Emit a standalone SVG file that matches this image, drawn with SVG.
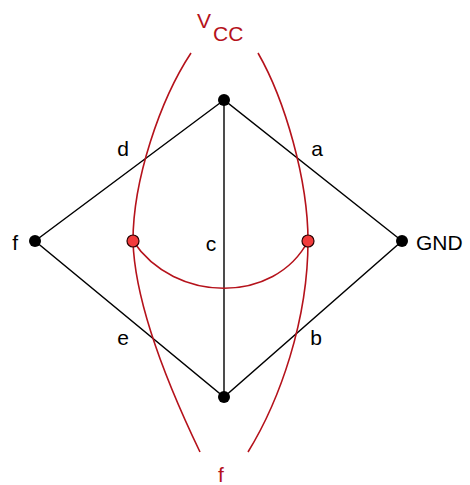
<svg xmlns="http://www.w3.org/2000/svg" width="470" height="485" viewBox="0 0 470 485">
<style>
.edge{stroke:#000;stroke-width:1.4;fill:none}
.red{stroke:#b5121b;stroke-width:1.6;fill:none}
.bn{fill:#000}
.rn{fill:#f23c3c;stroke:#2a0000;stroke-width:1.2}
text{font-family:"Liberation Sans",Arial,sans-serif;font-size:21px}
.rt{fill:#b5121b}
</style>
<rect width="470" height="485" fill="#fff"/>
<g id="connectors">
<path class="edge" d="M224,100 L35,241 L224,397 L402,241 Z M224,100 L224,397"/>
<path class="red" d="M191,53 C160,100 133,180 133,241 C135,310 175,400 200,452"/>
<path class="red" d="M258,53 C285,100 308,180 308,241 C308,320 280,400 248,452"/>
<path class="red" d="M133,241 C175,304 275,304 308,241"/>
</g>
<g id="n-top"><circle class="bn" cx="224" cy="100" r="6"/></g>
<g id="n-bottom"><circle class="bn" cx="224" cy="397" r="6"/></g>
<g id="n-left"><circle class="bn" cx="35" cy="241" r="6"/><text x="18" y="250" text-anchor="end">f</text></g>
<g id="n-right"><circle class="bn" cx="402" cy="241" r="6"/><text x="416" y="250">GND</text></g>
<g id="n-r1"><circle class="rn" cx="133" cy="241" r="6"/></g>
<g id="n-r2"><circle class="rn" cx="308" cy="241" r="6"/></g>
<g id="labels">
<text x="123" y="156" text-anchor="middle">d</text>
<text x="317" y="156" text-anchor="middle">a</text>
<text x="211" y="251" text-anchor="middle">c</text>
<text x="123" y="345" text-anchor="middle">e</text>
<text x="316" y="345" text-anchor="middle">b</text>
<text class="rt" x="197" y="28" font-size="23">V</text>
<text class="rt" x="213" y="41" font-size="23">CC</text>
<text class="rt" x="221" y="482" text-anchor="middle" font-size="22">f</text>
</g>
</svg>
